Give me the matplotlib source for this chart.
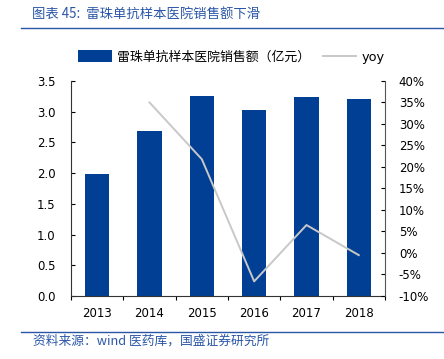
import matplotlib
matplotlib.use('Agg')
from matplotlib import pyplot as plt
from matplotlib.lines import Line2D

plt.rcParams['font.family'] = ['DejaVu Sans', 'Noto Sans CJK SC']

years = ['2013', '2014', '2015', '2016', '2017', '2018']
sales = [1.99, 2.68, 3.26, 3.03, 3.24, 3.21]
yoy_years = ['2014', '2015', '2016', '2017', '2018']
yoy = [35.0, 21.8, -6.6, 6.5, -0.5]

blue = '#003f94'
grey = '#c8c8c8'
title_blue = '#2a56a8'

fig = plt.figure(figsize=(4.44, 3.59), dpi=100)
ax = fig.add_axes([0.16, 0.1755, 0.707, 0.599])

# bars: sales (left axis)
x = list(range(len(years)))
ax.bar(x, sales, width=0.46, color=blue, zorder=2)
ax.set_xlim(-0.5, 5.5)
ax.set_ylim(0, 3.5)
ax.set_yticks([0, 0.5, 1.0, 1.5, 2.0, 2.5, 3.0, 3.5])
ax.set_yticklabels(['%.1f' % v for v in ax.get_yticks()])
ax.set_xticks(x)
ax.set_xticklabels(years)
ax.set_xticks([i - 0.5 for i in range(len(years) + 1)], minor=True)
ax.tick_params(axis='x', which='major', length=0, pad=8, labelsize=8.5)
ax.tick_params(axis='x', which='minor', length=3, direction='out', width=0.8)
ax.tick_params(axis='y', direction='in', length=3, width=0.8, labelsize=8.5, pad=11)
for s in ['top', 'right']:
    ax.spines[s].set_visible(False)

# line: yoy (right axis)
ax2 = ax.twinx()
yx = [years.index(y) for y in yoy_years]
ax2.plot(yx, yoy, color=grey, lw=1.4, zorder=3)
ax2.set_ylim(-10, 40)
ax2.set_yticks(range(-10, 45, 5))
ax2.set_yticklabels(['%d%%' % v for v in range(-10, 45, 5)])
ax2.tick_params(axis='y', direction='in', length=3, width=0.8, labelsize=8.5, pad=10)
for s in ['top', 'left', 'bottom']:
    ax2.spines[s].set_visible(False)
ax2.spines['right'].set_color('#555555')
ax.spines['left'].set_color('#333333')
ax.spines['bottom'].set_color('#333333')

handles = [ax.patches[0], Line2D([], [], color=grey, lw=1.4)]
fig.legend(handles, ['雷珠单抗样本医院销售额（亿元）', 'yoy'], loc='center',
           bbox_to_anchor=(0.521, 0.841), ncol=2, frameon=False,
           handlelength=2.6, handleheight=1.0, columnspacing=1.0, handletextpad=0.4,
           prop={'family': ['DejaVu Sans', 'Noto Sans CJK SC'], 'size': 9.3})

# header / footer
fig.text(0.072, 0.961, '图表 45:  雷珠单抗样本医院销售额下滑', color=title_blue,
         fontsize=9.6, va='center', ha='left', style='italic',
         family=['Noto Sans CJK SC', 'DejaVu Sans'])
fig.add_artist(Line2D([0.047, 1.0], [0.922, 0.922], color=title_blue, lw=1.0))
fig.add_artist(Line2D([0.047, 1.0], [0.075, 0.075], color=title_blue, lw=1.0))
fig.text(0.074, 0.05, '资料来源：wind 医药库，国盛证券研究所', color=title_blue,
         fontsize=9.2, va='center', ha='left', style='italic',
         family=['Noto Sans CJK SC', 'DejaVu Sans'])

fig.savefig('out.png', dpi=100)
